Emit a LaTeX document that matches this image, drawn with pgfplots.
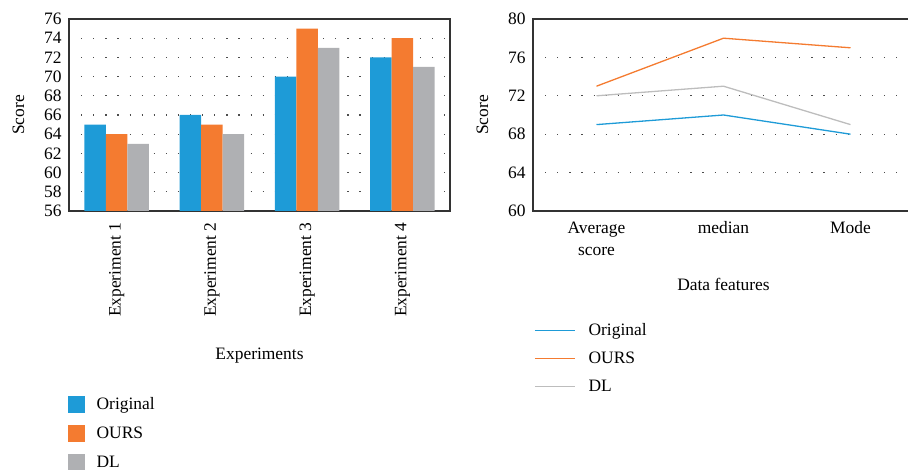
\documentclass[border=0pt]{standalone}
\usepackage{fontspec}
\setmainfont{Liberation Serif}
\usepackage{pgfplots}
\pgfplotsset{compat=1.18}
\definecolor{cblue}{HTML}{1E9BD7}
\definecolor{corange}{HTML}{F47B30}
\definecolor{cgray}{HTML}{AFB0B3}
\definecolor{lgray}{HTML}{BDBDBD}
\definecolor{axc}{HTML}{333333}
\begin{document}
\begin{tikzpicture}
\useasboundingbox (0bp,0bp) rectangle (908bp,470bp);
\pgfplotsset{
  myaxis/.style={
    scale only axis, width=381bp, height=192bp,
    font=\fontsize{17.5}{20}\selectfont,
    axis line style={axc, line width=1.6bp},
    major tick length=0pt,
    ymajorgrids,
    major grid style={black!70, line width=1.2bp, dash pattern=on 1.2bp off 10.9bp},
    /pgf/number format/assume math mode=true,
    yticklabel style={xshift=-4bp},
    every axis y label/.style={at={(axis description cs:-0.133,0.5)}, rotate=90, anchor=center},
    legend cell align=left,
  }
}
\begin{axis}[myaxis,
  at={(69bp,259bp)}, anchor=south west,
  ymin=56, ymax=76, ytick={56,58,...,76},
  xmin=0.5, xmax=4.5, xtick={1,2,3,4},
  xticklabels={Experiment 1,Experiment 2,Experiment 3,Experiment 4},
  xticklabel style={rotate=90, anchor=east, yshift=0bp, xshift=-8bp},
  ybar=0pt, bar width=21.5bp,
  ylabel={Score},
  xlabel={Experiments},
  every axis x label/.style={at={(axis description cs:0.5,-0.755)}, anchor=center},
  legend style={draw=none, fill=none, at={(axis description cs:-0.012,-0.95)}, anchor=north west,
    row sep=12bp, nodes={inner sep=1bp}, font=\fontsize{17.5}{20}\selectfont},
  legend image code/.code={\fill[#1] (0bp,-8.5bp) rectangle (17bp,8.5bp);},
]
\addplot[fill=cblue, draw=none] coordinates {(1,65) (2,66) (3,70) (4,72)};
\addplot[fill=corange, draw=none] coordinates {(1,64) (2,65) (3,75) (4,74)};
\addplot[fill=cgray, draw=none] coordinates {(1,63) (2,64) (3,73) (4,71)};
\legend{\hspace{11bp}Original,\hspace{11bp}OURS,\hspace{11bp}DL}
\end{axis}
\begin{axis}[myaxis,
  at={(533bp,259bp)}, anchor=south west,
  ymin=60, ymax=80, ytick={60,64,...,80},
  xmin=-0.5, xmax=2.5, xtick={0,1,2},
  xticklabels={{Average\\score},median,Mode},
  xticklabel style={align=center, yshift=-7bp, font=\fontsize{17.5}{23}\selectfont},
  ylabel={Score},
  xlabel={Data features},
  every axis x label/.style={at={(axis description cs:0.5,-0.385)}, anchor=center},
  legend style={draw=none, fill=none, at={(axis description cs:-0.005,-0.57)}, anchor=north west,
    row sep=13bp, nodes={inner sep=1bp}, font=\fontsize{17.5}{20}\selectfont},
  legend image code/.code={\draw[line width=1.3bp,#1] (0bp,0bp) -- (40bp,0bp);},
]
\addplot[color=cblue, line width=1.3bp] coordinates {(0,69) (1,70) (2,68)};
\addlegendentry{\hspace{12bp}Original}
\addplot[color=corange, line width=1.3bp] coordinates {(0,73) (1,78) (2,77)};
\addlegendentry{\hspace{12bp}OURS}
\addplot[color=lgray, line width=1.3bp] coordinates {(0,72) (1,73) (2,69)};
\addlegendentry{\hspace{12bp}DL}
\end{axis}
\end{tikzpicture}
\end{document}
